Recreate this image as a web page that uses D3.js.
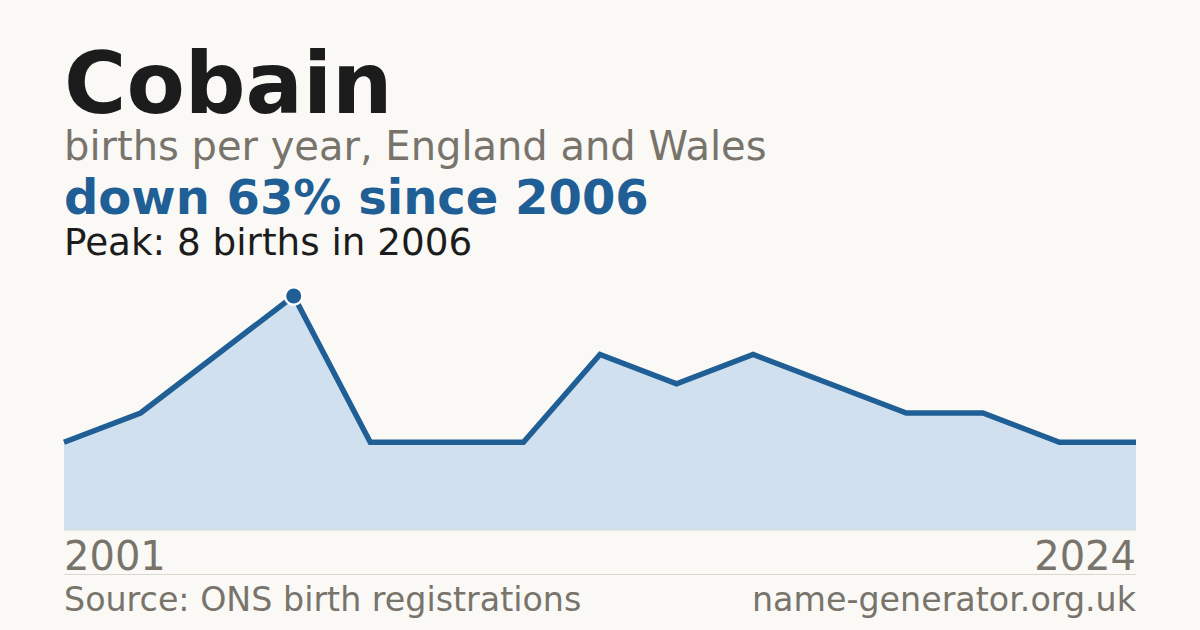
<!DOCTYPE html>
<html>
<head>
<meta charset="utf-8">
<script src="https://cdn.jsdelivr.net/npm/d3@7"></script>
<style>
  body { margin: 0; background: #faf9f5; }
  svg { display: block; font-family: "DejaVu Sans", sans-serif; }
</style>
</head>
<body>
<svg id="chart" width="1200" height="630"></svg>
<script>
// Data: births per year (years with no published count are left out)
var years = [2001, 2003, 2005, 2006, 2007, 2008, 2010, 2012, 2013, 2015, 2016, 2018, 2020, 2022, 2024];
var births = [3, 4, 6, 8, 3, 3, 3, 6, 5, 6, 5, 4, 4, 3, 3];

var title = "Cobain";
var subtitle = "births per year, England and Wales";
var headline = "down 63% since 2006";
var peakText = "Peak: 8 births in 2006";
var source = "Source: ONS birth registrations";
var site = "name-generator.org.uk";

var svg = d3.select("#chart"),
    width = +svg.attr("width"),
    height = +svg.attr("height");

// plot box (note: "top" is reserved on window, so use other names)
var plotLeft = 64, plotRight = 1136, plotTop = 296, plotBottom = 530;

svg.append("rect").attr("width", width).attr("height", height).attr("fill", "#faf9f5");

// x is a point scale over the years we have data for
var x = d3.scalePoint()
    .domain(years)
    .range([plotLeft, plotRight]);

var y = d3.scaleLinear()
    .domain([0, d3.max(births)])
    .range([plotBottom, plotTop]);

var data = years.map(function (yr, i) {
    return { year: yr, value: births[i] };
});

// Area under the line
var area = d3.area()
    .x(function (d) { return x(d.year); })
    .y0(plotBottom)
    .y1(function (d) { return y(d.value); });

svg.append("path")
    .datum(data)
    .attr("d", area)
    .attr("fill", "#d0e0ef");

// Baseline
svg.append("line")
    .attr("x1", plotLeft).attr("x2", plotRight)
    .attr("y1", plotBottom + 0.5).attr("y2", plotBottom + 0.5)
    .attr("stroke", "#ece6dc")
    .attr("stroke-width", 1);

// The line itself
var line = d3.line()
    .x(function (d) { return x(d.year); })
    .y(function (d) { return y(d.value); });

svg.append("path")
    .datum(data)
    .attr("d", line)
    .attr("fill", "none")
    .attr("stroke", "#1f5f96")
    .attr("stroke-width", 5.5)
    .attr("stroke-linejoin", "miter");

// Peak marker: white halo, then the blue dot
var peak = data.reduce(function (a, b) { return b.value > a.value ? b : a; });
svg.append("circle")
    .attr("cx", x(peak.year))
    .attr("cy", y(peak.value))
    .attr("r", 10)
    .attr("fill", "#ffffff");

svg.append("circle")
    .attr("cx", x(peak.year))
    .attr("cy", y(peak.value))
    .attr("r", 7.5)
    .attr("fill", "#1f5f96");

// Titles
svg.append("text")
    .attr("x", plotLeft).attr("y", 113)
    .style("font-size", "85px")
    .style("font-weight", "bold")
    .style("fill", "#1c1c1c")
    .text(title);

svg.append("text")
    .attr("x", plotLeft).attr("y", 160)
    .style("font-size", "40px")
    .style("fill", "#78746c")
    .text(subtitle);

svg.append("text")
    .attr("x", plotLeft).attr("y", 214)
    .style("font-size", "48px")
    .style("font-weight", "bold")
    .style("fill", "#1f5f96")
    .text(headline);

svg.append("text")
    .attr("x", plotLeft).attr("y", 255)
    .style("font-size", "37.3px")
    .style("fill", "#1c1c1c")
    .text(peakText);

// Year labels (first and last only)
svg.append("text")
    .attr("x", plotLeft).attr("y", 570)
    .style("font-size", "40px")
    .style("fill", "#78746c")
    .text(years[0]);

svg.append("text")
    .attr("x", plotRight).attr("y", 570)
    .attr("text-anchor", "end")
    .style("font-size", "40px")
    .style("fill", "#78746c")
    .text(years[years.length - 1]);

// Separator and footer
svg.append("line")
    .attr("x1", plotLeft).attr("x2", plotRight)
    .attr("y1", 574.5).attr("y2", 574.5)
    .attr("stroke", "#dcd8d0")
    .attr("stroke-width", 1);

svg.append("text")
    .attr("x", plotLeft).attr("y", 611)
    .style("font-size", "33.3px")
    .style("fill", "#78746c")
    .text(source);

svg.append("text")
    .attr("x", plotRight).attr("y", 611)
    .attr("text-anchor", "end")
    .style("font-size", "33.3px")
    .style("fill", "#78746c")
    .text(site);
</script>
</body>
</html>
